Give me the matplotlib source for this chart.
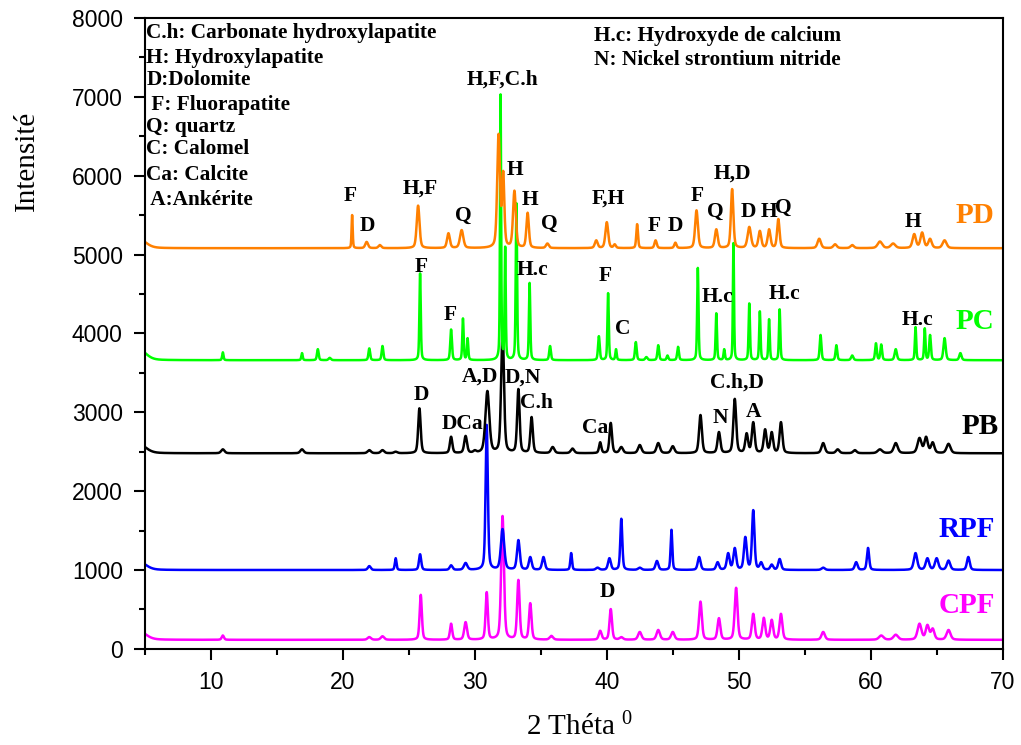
import numpy as np
import matplotlib
matplotlib.use("Agg")
import matplotlib.pyplot as plt
from matplotlib.ticker import MultipleLocator

plt.rcParams["mathtext.fontset"] = "custom"
plt.rcParams["mathtext.rm"] = "Liberation Serif"
plt.rcParams["mathtext.it"] = "Liberation Serif"

# 2-theta grid
theta = np.linspace(5, 70, 6501)

# peak tables: (2theta, apex intensity, fwhm)
pd_base = 5080
pd_peaks = [(4.6, 5190, 1.2), (20.7, 5500, 0.1), (21.8, 5160, 0.25), (22.8, 5120, 0.25),
            (25.7, 5620, 0.25), (28.0, 5270, 0.25), (29.0, 5310, 0.3), (31.8, 6530, 0.25),
            (32.15, 6060, 0.2), (33.0, 5810, 0.25), (34.0, 5530, 0.22), (35.5, 5140, 0.25),
            (39.2, 5180, 0.25), (40.0, 5410, 0.25), (40.6, 5130, 0.2), (42.3, 5385, 0.15),
            (43.7, 5180, 0.2), (45.2, 5150, 0.2), (46.8, 5560, 0.25), (48.3, 5320, 0.25),
            (49.5, 5830, 0.22), (50.8, 5350, 0.3), (51.6, 5300, 0.25), (52.3, 5320, 0.25),
            (53.0, 5450, 0.22), (56.1, 5200, 0.3), (57.3, 5130, 0.3), (58.6, 5120, 0.3),
            (60.7, 5165, 0.4), (61.7, 5140, 0.4), (63.3, 5260, 0.3), (63.9, 5280, 0.3),
            (64.5, 5200, 0.3), (65.6, 5180, 0.35)]

pc_base = 3660
pc_peaks = [(4.6, 3790, 1.2), (10.9, 3760, 0.12), (16.9, 3750, 0.12), (18.1, 3800, 0.15),
            (19.0, 3690, 0.2), (22.0, 3810, 0.15), (23.0, 3840, 0.15), (25.85, 4760, 0.12),
            (28.2, 4050, 0.15), (29.1, 4190, 0.12), (29.45, 3940, 0.12), (31.95, 7030, 0.1),
            (32.3, 5100, 0.1), (33.15, 5650, 0.12), (34.15, 4640, 0.12), (35.7, 3840, 0.15),
            (39.4, 3965, 0.15), (40.1, 4510, 0.12), (40.7, 3800, 0.12), (42.2, 3890, 0.15),
            (43.0, 3700, 0.2), (43.9, 3850, 0.15), (44.6, 3720, 0.15), (45.4, 3830, 0.15),
            (46.9, 4830, 0.12), (48.3, 4255, 0.12), (48.9, 3800, 0.12), (49.6, 5145, 0.1),
            (50.8, 4380, 0.12), (51.6, 4280, 0.12), (52.3, 4180, 0.12), (53.1, 4305, 0.12),
            (56.2, 3980, 0.15), (57.4, 3850, 0.15), (58.6, 3720, 0.2), (60.4, 3875, 0.15),
            (60.8, 3860, 0.15), (61.9, 3800, 0.2), (63.4, 4080, 0.12), (64.1, 4065, 0.12),
            (64.5, 3980, 0.15), (65.6, 3940, 0.2), (66.8, 3750, 0.2)]

pb_base = 2480
pb_peaks = [(4.6, 2590, 1.2), (10.9, 2530, 0.3), (16.9, 2530, 0.3), (22.0, 2520, 0.3),
            (23.0, 2520, 0.3), (24.0, 2500, 0.3), (25.8, 3050, 0.22), (28.2, 2690, 0.22),
            (29.3, 2700, 0.25), (30.0, 2520, 0.25), (30.95, 3270, 0.35), (32.1, 4065, 0.25),
            (33.3, 3295, 0.22), (34.3, 2940, 0.22), (35.9, 2560, 0.3), (37.4, 2540, 0.3),
            (39.5, 2620, 0.2), (40.3, 2865, 0.22), (41.1, 2560, 0.3), (42.5, 2585, 0.3),
            (43.9, 2610, 0.3), (45.0, 2570, 0.3), (47.1, 2965, 0.25), (48.5, 2750, 0.25),
            (49.7, 3170, 0.25), (50.6, 2735, 0.25), (51.1, 2875, 0.25), (52.0, 2785, 0.25),
            (52.5, 2750, 0.25), (53.2, 2875, 0.25), (56.4, 2610, 0.3), (57.5, 2530, 0.3),
            (58.8, 2520, 0.3), (60.7, 2530, 0.4), (61.9, 2610, 0.35), (63.7, 2675, 0.35),
            (64.2, 2690, 0.3), (64.7, 2620, 0.3), (65.9, 2600, 0.35)]

rpf_base = 1000
rpf_peaks = [(4.6, 1100, 1.2), (22.0, 1050, 0.25), (24.0, 1150, 0.15), (25.85, 1200, 0.2),
             (28.2, 1060, 0.25), (29.3, 1090, 0.3), (30.9, 2840, 0.2), (32.1, 1520, 0.3),
             (33.3, 1380, 0.25), (34.2, 1165, 0.25), (35.2, 1165, 0.25), (37.3, 1215, 0.15),
             (39.3, 1030, 0.3), (40.2, 1150, 0.25), (41.1, 1650, 0.18), (42.5, 1030, 0.3),
             (43.8, 1115, 0.25), (44.9, 1510, 0.15), (47.0, 1165, 0.25), (48.4, 1100, 0.25),
             (49.2, 1215, 0.25), (49.7, 1280, 0.25), (50.5, 1420, 0.25), (51.1, 1760, 0.22),
             (51.7, 1100, 0.25), (52.5, 1070, 0.25), (53.1, 1140, 0.25), (56.4, 1030, 0.3),
             (58.9, 1100, 0.25), (59.8, 1280, 0.2), (63.4, 1215, 0.3), (64.3, 1150, 0.3),
             (65.0, 1150, 0.3), (65.9, 1120, 0.3), (67.4, 1165, 0.25)]

cpf_base = 115
cpf_peaks = [(4.6, 220, 1.2), (10.9, 170, 0.2), (22.0, 150, 0.3), (23.0, 160, 0.3),
             (25.9, 685, 0.2), (28.2, 320, 0.2), (29.3, 340, 0.25), (30.9, 720, 0.2),
             (32.1, 1685, 0.25), (33.3, 875, 0.22), (34.2, 580, 0.22), (35.8, 165, 0.3),
             (39.5, 230, 0.25), (40.3, 505, 0.22), (41.1, 150, 0.3), (42.5, 215, 0.3),
             (43.9, 240, 0.3), (45.0, 215, 0.3), (47.1, 600, 0.25), (48.5, 390, 0.25),
             (49.8, 775, 0.25), (51.1, 445, 0.25), (51.9, 395, 0.25), (52.5, 370, 0.25),
             (53.2, 445, 0.25), (56.4, 215, 0.3), (60.8, 170, 0.4), (61.9, 180, 0.4),
             (63.7, 320, 0.35), (64.3, 305, 0.3), (64.7, 260, 0.3), (65.9, 240, 0.35)]

samples = ["PD", "PC", "PB", "RPF", "CPF"]
colors = ["#ff8000", "#00ff00", "#000000", "#0000ff", "#ff00ff"]

# phase labels above the peaks: (text, 2theta, intensity)
pd_labels = [("F", 20.53, 5742), ("D", 21.89, 5361), ("H,F", 25.83, 5840), ("Q", 29.09, 5488),
             ("H,F,C.h", 32.12, 7212), ("H", 33.03, 6071), ("H", 34.17, 5691), ("Q", 35.68, 5387),
             ("F,H", 40.08, 5704), ("F", 43.56, 5361), ("D", 45.23, 5361), ("F", 46.82, 5742),
             ("Q", 48.26, 5539), ("H,D", 49.55, 6030), ("D", 50.76, 5539), ("H", 52.27, 5539),
             ("Q", 53.41, 5590), ("H", 63.18, 5412)]
pc_labels = [("F", 25.91, 4842), ("F", 28.11, 4233), ("H.c", 34.39, 4804), ("F", 39.92, 4728),
             ("C", 41.21, 4056), ("H.c", 48.41, 4462), ("H.c", 53.48, 4500), ("H.c", 63.56, 4170)]
pb_labels = [("D", 25.91, 3220), ("DCa", 29.09, 2852), ("A,D", 30.38, 3448), ("D,N", 33.64, 3435),
             ("C.h", 34.70, 3118), ("Ca", 39.09, 2801), ("N", 48.64, 2928), ("C.h,D", 49.85, 3372),
             ("A", 51.14, 3004)]
cpf_labels = [("D", 40.08, 722)]

phase_key_left = ["C.h: Carbonate hydroxylapatite", "H: Hydroxylapatite", "D:Dolomite",
                  " F: Fluorapatite", "Q: quartz", "C: Calomel", "Ca: Calcite", " A:Ankérite"]
phase_key_right = ["H.c: Hydroxyde de calcium", "N: Nickel strontium nitride"]


def profile(x, pos, fwhm):
    # pseudo-Voigt shape with unit apex
    g = np.exp(-4 * np.log(2) * ((x - pos) / fwhm) ** 2)
    l = 1 / (1 + 4 * ((x - pos) / fwhm) ** 2)
    return 0.6 * g + 0.4 * l


def pattern(base, peaks):
    pos = np.array([p[0] for p in peaks])
    top = np.array([p[1] for p in peaks])
    w = np.array([p[2] for p in peaks])
    # scale the peaks so the summed curve reaches each apex value
    A = np.array([[profile(xi, pj, wj) for pj, wj in zip(pos, w)] for xi in pos])
    amp = np.linalg.solve(A, top - base)
    y = np.full_like(theta, float(base))
    for a, p, ww in zip(amp, pos, w):
        y += a * profile(theta, p, ww)
    return y


series = [pattern(pd_base, pd_peaks), pattern(pc_base, pc_peaks), pattern(pb_base, pb_peaks),
          pattern(rpf_base, rpf_peaks), pattern(cpf_base, cpf_peaks)]

fig = plt.figure(figsize=(10.21, 7.45), dpi=100)
ax = fig.add_axes([0.142, 0.129, 0.840, 0.847])

# draw bottom trace first so the upper ones sit on top
for y, c in zip(series[::-1], colors[::-1]):
    ax.plot(theta, y, color=c, lw=1.8)

ax.set_xlim(5, 70)
ax.set_ylim(0, 8000)
ax.xaxis.set_major_locator(MultipleLocator(10))
ax.xaxis.set_minor_locator(MultipleLocator(5))
ax.yaxis.set_major_locator(MultipleLocator(1000))
ax.yaxis.set_minor_locator(MultipleLocator(500))
ax.tick_params(which="major", direction="out", length=8, width=1.5, labelsize=16.5, pad=8)
ax.tick_params(which="minor", direction="out", length=4, width=1.5)
for lab in ax.get_xticklabels() + ax.get_yticklabels():
    lab.set_fontfamily("Liberation Sans")
for sp in ax.spines.values():
    sp.set_linewidth(1.5)

ax.set_ylabel("Intensité", family="Liberation Serif", fontsize=21)
ax.yaxis.set_label_coords(-0.122, 0.773)
ax.set_xlabel("2 Théta $^0$", family="Liberation Serif", fontsize=21)
ax.xaxis.set_label_coords(0.507, -0.102)

bold = dict(family="Liberation Serif", fontweight="bold", ha="center", va="center")
for labels in [pd_labels, pc_labels, pb_labels, cpf_labels]:
    for txt, xx, yy in labels:
        ax.text(xx, yy, txt, fontsize=15.5, **bold)

name_pos = [(67.9, 5500), (67.9, 4145), (68.3, 2825), (67.3, 1508), (67.3, 545)]
for name, c, (xx, yy) in zip(samples, colors, name_pos):
    ax.text(xx, yy, name, color=c, fontsize=21, **bold)

key_y = [7808, 7490, 7210, 6895, 6616, 6337, 6007, 5690]
for txt, yy in zip(phase_key_left, key_y):
    ax.text(5.1, yy, txt, fontsize=15.3, family="Liberation Serif", fontweight="bold", va="center")
for txt, yy in zip(phase_key_right, [7770, 7466]):
    ax.text(39.0, yy, txt, fontsize=15.3, family="Liberation Serif", fontweight="bold", va="center")

fig.savefig("out.png", dpi=100)
